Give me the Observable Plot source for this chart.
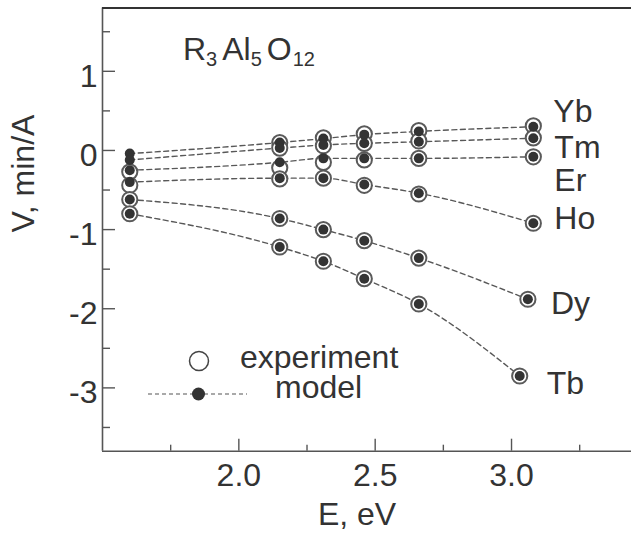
<!DOCTYPE html>
<html><head><meta charset="utf-8">
<script src="https://cdn.jsdelivr.net/npm/d3@7"></script>
<script src="https://cdn.jsdelivr.net/npm/@observablehq/plot@0.6"></script>
<style>
html,body{margin:0;padding:0;background:#fff;}
#chart svg{display:block;}
</style></head><body><div id="chart"></div>
<script>
// ---- data ----
const ions = ["Yb", "Tm", "Er", "Ho", "Dy", "Tb"];
const energyCommon = [1.60, 2.15, 2.31, 2.46, 2.66];      // eV, shared columns
const energyLast = [3.08, 3.08, 3.08, 3.08, 3.06, 3.03]; // eV, last point per ion
const modelYb = [-0.04, 0.10, 0.15, 0.20, 0.24, 0.30];
const modelTm = [-0.12, 0.03, 0.07, 0.09, 0.11, 0.155];
const modelEr = [-0.25, -0.15, -0.10, -0.10, -0.10, -0.08];
const modelHo = [-0.40, -0.35, -0.35, -0.43, -0.54, -0.92];
const modelDy = [-0.62, -0.86, -1.00, -1.14, -1.36, -1.88];
const modelTb = [-0.80, -1.22, -1.40, -1.62, -1.94, -2.85];
const expYb = [null, 0.10, 0.16, 0.21, 0.25, 0.31];
const expTm = [null, 0.03, 0.06, 0.09, 0.12, 0.16];
const expEr = [-0.27, -0.22, -0.15, -0.12, -0.10, -0.08];
const expHo = [-0.44, -0.36, -0.35, -0.44, -0.55, -0.92];
const expDy = [-0.62, -0.86, -1.00, -1.14, -1.36, -1.88];
const expTb = [-0.80, -1.22, -1.40, -1.62, -1.94, -2.85];
const yMajorTicks = [-3, -2, -1, 0, 1];
const yMinorTicks = [-3.5, -2.5, -1.5, -0.5, 0.5, 1.5];
const yTickLabels = ["-3", "-2", "-1", "0", "1"];
const xMajorTicks = [2.0, 2.5, 3.0];
const xMinorTicks = [1.75, 2.25, 2.75, 3.25];
const xTickLabels = ["2.0", "2.5", "3.0"];
const xLabel = "E, eV";
const yLabel = "V, min/A";
const legendLabels = ["experiment", "model"];

// ---- build tables ----
const modelSeries = [modelYb, modelTm, modelEr, modelHo, modelDy, modelTb];
const expSeries = [expYb, expTm, expEr, expHo, expDy, expTb];
const eOf = (i, j) => j < energyCommon.length ? energyCommon[j] : energyLast[i];
const modelRows = [], expRows = [];
ions.forEach((ion, i) => {
  modelSeries[i].forEach((v, j) => modelRows.push({ion, E: eOf(i, j), V: v}));
  expSeries[i].forEach((v, j) => { if (v != null) expRows.push({ion, E: eOf(i, j), V: v}); });
});
const lastRows = ions.map((ion, i) => ({ion, E: energyLast[i], V: modelSeries[i][modelSeries[i].length - 1]}));

// label placement (px offsets from last point)
const labelDx = [20, 21, 21, 21, 23, 27];
const labelDy = [-15, 10, 23.5, -5, 4.4, 7.6];

const FONT = "'Liberation Sans', Arial, Helvetica, sans-serif";
const INK = "#333";
const AX = "#555";

const plot = Plot.plot({
  width: 631,
  height: 536,
  marginLeft: 102,
  marginRight: 0,
  marginTop: 7.5,
  marginBottom: 85.3,
  style: {fontFamily: FONT, fontSize: "32px", color: INK, background: "white", overflow: "visible"},
  x: {domain: [1.5, 3.44]},
  y: {domain: [-3.8, 1.8]},
  marks: [
    // frame lines
    Plot.ruleX([1.5], {stroke: AX, strokeWidth: 1.6}),
    Plot.ruleY([-3.8], {stroke: AX, strokeWidth: 1.6}),
    Plot.ruleY([1.8], {stroke: "#333", strokeWidth: 2}),
    // inward ticks
    Plot.axisY({ticks: yMajorTicks, tickSize: -13, tickFormat: () => "", stroke: AX, strokeWidth: 1.4, label: null}),
    Plot.axisY({ticks: yMinorTicks, tickSize: -8, tickFormat: () => "", stroke: AX, strokeWidth: 1.4, label: null}),
    Plot.axisX({ticks: xMajorTicks, tickSize: -12, tickFormat: () => "", stroke: AX, strokeWidth: 1.4, label: null}),
    Plot.axisX({ticks: xMinorTicks, tickSize: -6, tickFormat: () => "", stroke: AX, strokeWidth: 1.4, label: null}),
    // tick labels
    Plot.axisY({ticks: yMajorTicks, tickSize: 0, tickPadding: 5, dy: 5, fill: INK, fontSize: 32, label: null,
      tickFormat: d => yTickLabels[yMajorTicks.indexOf(d)]}),
    Plot.axisX({ticks: xMajorTicks, tickSize: 0, tickPadding: 12, fill: INK, fontSize: 32, label: null,
      tickFormat: d => xTickLabels[xMajorTicks.indexOf(d)]}),
    // axis titles
    Plot.text([yLabel], {text: d => d, frameAnchor: "left", rotate: -90, dx: -79, dy: 3, fontSize: 32, fill: INK}),
    Plot.text([xLabel], {text: d => d, frameAnchor: "bottom", dx: -10, dy: 74, fontSize: 32, fill: INK}),
    // model curves
    Plot.line(modelRows, {x: "E", y: "V", z: "ion", curve: "monotone-x", stroke: "#585858", strokeWidth: 1.4, strokeDasharray: "5,3.5"}),
    // experiment rings
    Plot.dot(expRows, {x: "E", y: "V", r: 7.6, stroke: "#5a5a5a", strokeWidth: 2, fill: "white"}),
    // model dots
    Plot.dot(modelRows, {x: "E", y: "V", r: 5, fill: "#333", stroke: "none"}),
    // ion labels
    ...ions.map((ion, i) => Plot.text([lastRows[i]], {x: "E", y: "V", text: "ion", textAnchor: "start",
      dx: labelDx[i], dy: labelDy[i], fontSize: 32, fill: INK}))
  ]
});

document.getElementById("chart").appendChild(plot);

// formula annotation and legend
const svg = d3.select(plot);
const formula = svg.append("text").attr("x", 183).attr("y", 60).attr("text-anchor", "start")
  .attr("font-family", FONT).attr("font-size", 32).attr("fill", INK);
formula.append("tspan").text("R");
formula.append("tspan").attr("font-size", 20).attr("dy", 6).text("3");
formula.append("tspan").attr("dx", 5).attr("dy", -6).text("Al");
formula.append("tspan").attr("font-size", 20).attr("dy", 6).text("5");
formula.append("tspan").attr("dx", 5).attr("dy", -6).text("O");
formula.append("tspan").attr("font-size", 20).attr("dx", 1).attr("dy", 6).text("12");

const lg = svg.append("g").attr("font-family", FONT).attr("font-size", 32).attr("fill", INK)
  .attr("text-anchor", "start");
lg.append("circle").attr("cx", 199).attr("cy", 361).attr("r", 9.5)
  .attr("fill", "white").attr("stroke", "#444").attr("stroke-width", 1.5);
lg.append("text").attr("x", 240).attr("y", 368).text(legendLabels[0]);
lg.append("line").attr("x1", 148).attr("x2", 247).attr("y1", 394).attr("y2", 394)
  .attr("stroke", "#555").attr("stroke-width", 1.2).attr("stroke-dasharray", "4,3");
lg.append("circle").attr("cx", 198.5).attr("cy", 394).attr("r", 6.5).attr("fill", "#333");
lg.append("text").attr("x", 275).attr("y", 398).text(legendLabels[1]);
</script>
</body></html>
